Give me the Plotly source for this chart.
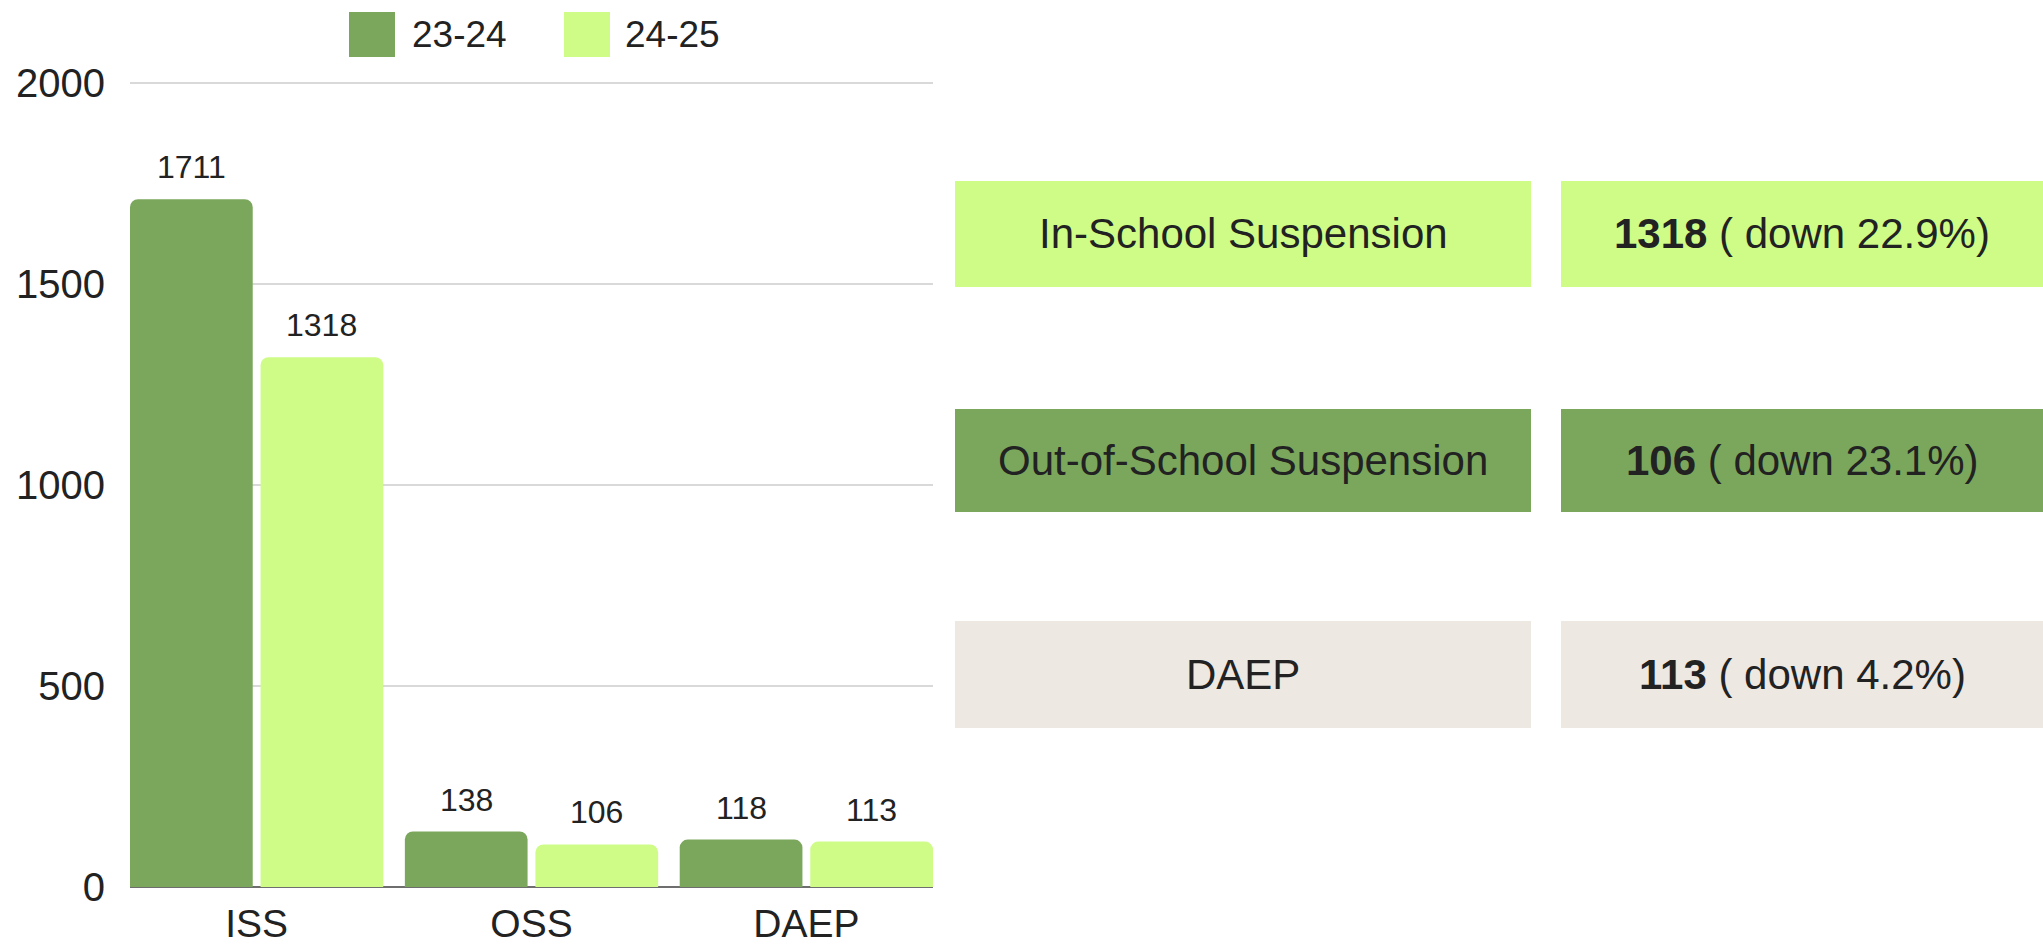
import plotly.graph_objects as go

# ---------------- data ----------------
categories = ["ISS", "OSS", "DAEP"]
series_names = ["23-24", "24-25"]
values_2324 = [1711, 138, 118]
values_2425 = [1318, 106, 113]
y_ticks = [0, 500, 1000, 1500, 2000]

summary_labels = ["In-School Suspension", "Out-of-School Suspension", "DAEP"]
summary_values = [1318, 106, 113]
summary_pct_down = ["22.9", "23.1", "4.2"]

# ---------------- style ----------------
DARK = "#7BA75D"
LIGHT = "#CEFC87"
BEIGE = "#EEE8E2"
TEXT = "#222222"
FONT = "Liberation Sans, Arial, Helvetica, sans-serif"

W, H = 2043, 945
Y_MAX = 2010
ZERO_PX, TOP_PX = 887, 83          # pixel rows of 0 and 2000
PH = round((ZERO_PX - TOP_PX) * Y_MAX / 2000)
ML, MR, MB = 130, 0, H - ZERO_PX
MT = H - MB - PH
PW = W - ML - MR
PLOT_RIGHT_PX = 933

BARGAP = 0.05
BARGROUPGAP = 0.06
slot = (1 - BARGAP) / 2
edge = BARGAP / 2 + slot * BARGROUPGAP / 2


def px_x(px):
    return (px - ML) / PW


def px_y(py):
    return (H - MB - py) / PH


fig = go.Figure()
fig.add_trace(go.Bar(x=categories, y=values_2324, name=series_names[0],
                     marker=dict(color=DARK, line=dict(width=0)), showlegend=False))
fig.add_trace(go.Bar(x=categories, y=values_2425, name=series_names[1],
                     marker=dict(color=LIGHT, line=dict(width=0)), showlegend=False))

annotations = []
shapes = []

# value labels above bars
offsets = [-slot / 2, slot / 2]
for s, vals in enumerate([values_2324, values_2425]):
    for i, v in enumerate(vals):
        annotations.append(dict(
            x=i + offsets[s], y=v, xref="x", yref="y", text=str(v),
            showarrow=False, yanchor="middle", yshift=32,
            font=dict(family=FONT, size=32, color=TEXT)))

# custom legend
legend_items = [(349, 410, DARK, series_names[0]), (564, 623, LIGHT, series_names[1])]
for sx, tx, col, name in legend_items:
    shapes.append(dict(type="rect", xref="paper", yref="paper",
                       x0=px_x(sx), x1=px_x(sx + 46), y0=px_y(57), y1=px_y(12),
                       fillcolor=col, line=dict(width=0), layer="above"))
    annotations.append(dict(x=px_x(tx), y=px_y(35), xref="paper", yref="paper",
                            text=name, showarrow=False, xanchor="left", yanchor="middle",
                            font=dict(family=FONT, size=37, color=TEXT)))

# summary boxes
rows = [(181, 287, LIGHT), (409, 512, DARK), (621, 728, BEIGE)]
LBOX = (955, 1531)
RBOX = (1561, 2043)
for (y0, y1, col), lab, val, pct in zip(rows, summary_labels, summary_values, summary_pct_down):
    for bx0, bx1 in (LBOX, RBOX):
        shapes.append(dict(type="rect", xref="paper", yref="paper",
                           x0=px_x(bx0), x1=px_x(bx1), y0=px_y(y1), y1=px_y(y0),
                           fillcolor=col, line=dict(width=0), layer="below"))
    yc = px_y((y0 + y1) / 2)
    annotations.append(dict(x=px_x((LBOX[0] + LBOX[1]) / 2), y=yc, xref="paper", yref="paper",
                            text=lab, showarrow=False, xanchor="center", yanchor="middle",
                            font=dict(family=FONT, size=42, color=TEXT)))
    annotations.append(dict(x=px_x((RBOX[0] + RBOX[1]) / 2), y=yc, xref="paper", yref="paper",
                            text=f"<b>{val}</b> ( down {pct}%)", showarrow=False,
                            xanchor="center", yanchor="middle",
                            font=dict(family=FONT, size=42, color=TEXT)))

fig.update_layout(
    width=W, height=H,
    margin=dict(l=ML, r=MR, t=MT, b=MB, pad=0),
    paper_bgcolor="white", plot_bgcolor="white",
    barmode="group", bargap=BARGAP, bargroupgap=BARGROUPGAP,
    barcornerradius=8,
    showlegend=False,
    xaxis=dict(domain=[0, px_x(PLOT_RIGHT_PX)], type="category",
               range=[-0.5 + edge, len(categories) - 0.5 - edge],
               showgrid=False, showline=False, zeroline=False, ticks="",
               ticklabelstandoff=10,
               tickfont=dict(family=FONT, size=39, color=TEXT)),
    yaxis=dict(range=[0, Y_MAX], tickvals=y_ticks, showgrid=True,
               gridcolor="#D9D9D9", gridwidth=1.5, zeroline=True,
               zerolinecolor="#6E6E6E", zerolinewidth=2, showline=False, ticks="",
               ticklabelstandoff=24,
               tickfont=dict(family=FONT, size=40, color=TEXT)),
    annotations=annotations, shapes=shapes,
)

fig.write_html(
    "out.html",
    config={"displayModeBar": False},
    post_script="document.body.style.margin='0';document.body.style.padding='0';"
                "document.body.style.overflow='hidden';",
)
